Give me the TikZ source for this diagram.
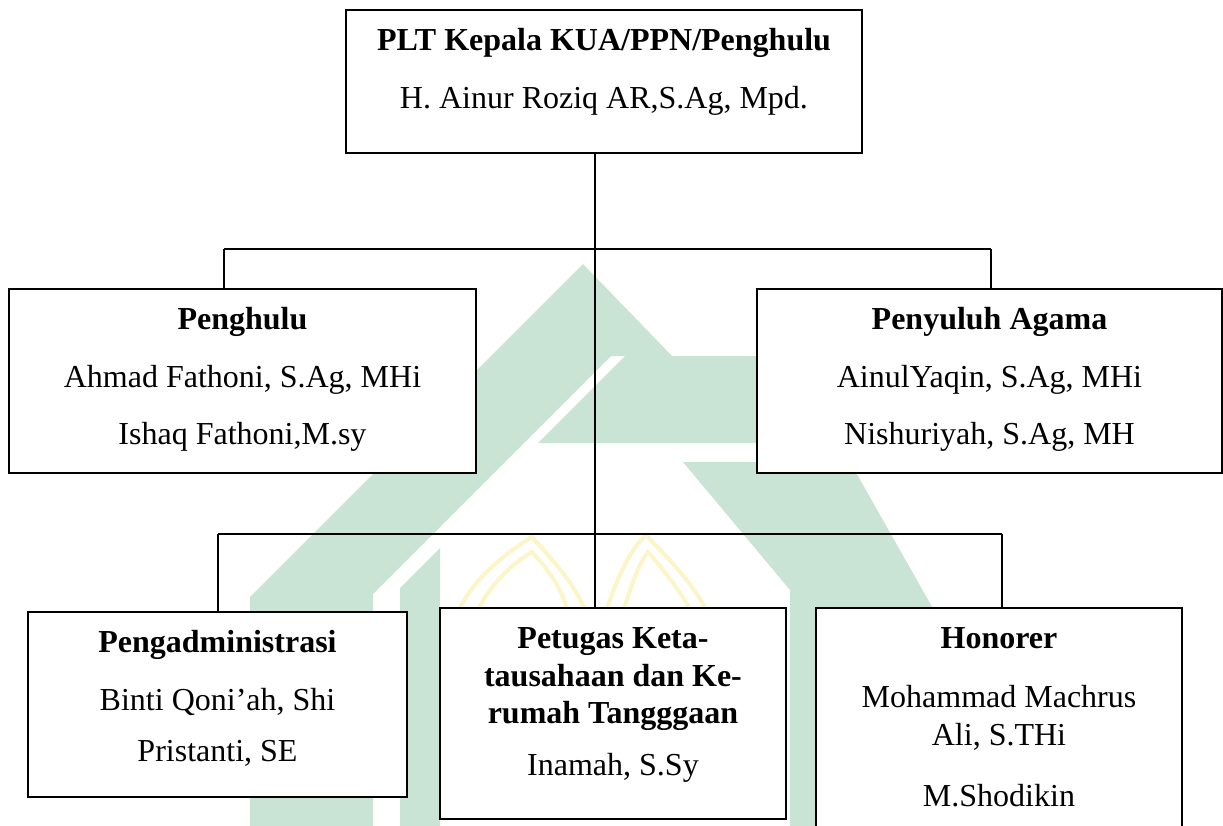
\documentclass[tikz,border=0pt]{standalone}
\usepackage{fontspec}
\setmainfont{Liberation Serif}
\definecolor{wmgreen}{RGB}{201,227,212}
\definecolor{wmyellow}{RGB}{251,245,200}
\tikzset{
  box/.style={draw=black, line width=0.6pt, fill=white, inner sep=0pt},
  link/.style={draw=black, line width=0.55pt},
  ttl/.style={font=\fontsize{16}{19}\selectfont\bfseries, anchor=base, inner sep=0pt},
  txt/.style={font=\fontsize{16}{19}\selectfont, anchor=base, inner sep=0pt},
  wm/.style={fill=wmgreen, draw=none},
  arch/.style={draw=wmyellow, line width=2pt, line cap=round}
}
\begin{document}
\begin{tikzpicture}[x=0.5pt,y=-0.5pt]
\useasboundingbox (0,0) rectangle (1223,826);
\clip (0,0) rectangle (1223,826);
\fill[white] (0,0) rectangle (1223,826);
% watermark (faint logo)
\path[wm] (583,264) -- (672,356) -- (611,356) -- (373,594) -- (373,826) -- (250,826) -- (250,597) -- cycle;
\path[wm] (625,356) -- (1049,356) -- (1049,443) -- (538,443) -- cycle;
\path[wm] (400,588) -- (440,548) -- (440,826) -- (400,826) -- cycle;
\path[wm] (683,462) -- (850,462) -- (935,612) -- (935,826) -- (790,826) -- (790,590) -- cycle;
\draw[arch] (461,606) .. controls (480,570) and (515,548) .. (532,537) .. controls (548,555) and (572,580) .. (583,606);
\draw[arch] (480,606) .. controls (495,578) and (518,560) .. (532,552) .. controls (545,566) and (560,585) .. (566,606);
\draw[arch] (608,606) .. controls (620,570) and (632,548) .. (646,535) .. controls (665,555) and (690,580) .. (704,606);
\draw[arch] (625,606) .. controls (633,580) and (640,562) .. (648,552) .. controls (662,568) and (678,588) .. (688,606);
% boxes
\node[box, minimum width=258pt, minimum height=71.5pt] (top) at (604,81.5) {};
\node[box, minimum width=233.5pt, minimum height=92pt] (ul) at (242.5,381) {};
\node[box, minimum width=232.5pt, minimum height=92pt] (ur) at (989.5,381) {};
\node[box, minimum width=189.5pt, minimum height=92.5pt] (bl) at (217.5,704.5) {};
\node[box, minimum width=173pt, minimum height=105.5pt] (bm) at (613,713.5) {};
\node[box, minimum width=183pt, minimum height=121pt] (br) at (999,729) {};
% junctions
\coordinate (j1) at (595,249);
\coordinate (h1l) at (224,249);
\coordinate (h1r) at (991,249);
\coordinate (h2l) at (218,534);
\coordinate (h2r) at (1002,534);
% connectors
\draw[link] (top.south -| j1) -- (bm.north -| j1);
\draw[link] (h1l) -- (h1r);
\draw[link] (h1l) -- (ul.north -| h1l);
\draw[link] (h1r) -- (ur.north -| h1r);
\draw[link] (h2l) -- (h2r);
\draw[link] (h2l) -- (bl.north -| h2l);
\draw[link] (h2r) -- (br.north -| h2r);
% texts
\node[ttl] (t1) at (604,50) {PLT Kepala KUA/PPN/Penghulu};
\node[txt] (t2) at (604,108) {H. Ainur Roziq AR,S.Ag, Mpd.};
\node[ttl] (t3) at (242.5,329) {Penghulu};
\node[txt] (t4) at (242.5,387) {Ahmad Fathoni, S.Ag, MHi};
\node[txt] (t5) at (242.5,444) {Ishaq Fathoni,M.sy};
\node[ttl] (t6) at (989.5,329) {Penyuluh Agama};
\node[txt] (t7) at (989.5,387) {AinulYaqin, S.Ag, MHi};
\node[txt] (t8) at (989.5,444) {Nishuriyah, S.Ag, MH};
\node[ttl] (t9) at (217.5,652) {Pengadministrasi};
\node[txt] (t10) at (217.5,710) {Binti Qoni’ah, Shi};
\node[txt] (t11) at (217.5,761) {Pristanti, SE};
\node[ttl] (t12) at (613,648) {Petugas Keta-};
\node[ttl] (t13) at (613,686) {tausahaan dan Ke-};
\node[ttl] (t14) at (613,723) {rumah Tangggaan};
\node[txt] (t15) at (613,775) {Inamah, S.Sy};
\node[ttl] (t16) at (999,648) {Honorer};
\node[txt] (t17) at (999,707) {Mohammad Machrus};
\node[txt] (t18) at (999,745) {Ali, S.THi};
\node[txt] (t19) at (999,806) {M.Shodikin};
\end{tikzpicture}
\end{document}
